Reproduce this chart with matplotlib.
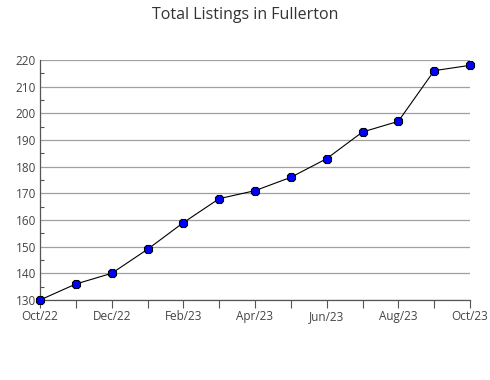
import matplotlib
matplotlib.use("Agg")
import matplotlib.pyplot as plt
from matplotlib.ticker import MultipleLocator

# data
months = ["Oct/22", "Nov/22", "Dec/22", "Jan/23", "Feb/23", "Mar/23", "Apr/23",
          "May/23", "Jun/23", "Jul/23", "Aug/23", "Sep/23", "Oct/23"]
listings = [130, 136, 140, 149, 159, 168, 171, 176, 183, 193, 197, 216, 218]

TEXT = "#444444"
GRID = "#a0a0a0"

plt.rcParams["font.family"] = ["Open Sans", "DejaVu Sans"]

fig = plt.figure(figsize=(4.9, 3.8), dpi=100)
ax = fig.add_axes([40 / 490, 80 / 380, 430 / 490, 240 / 380])

x = list(range(len(months)))
ax.plot(x, listings, color="black", lw=0.8, marker="8", markersize=7,
        markerfacecolor="#0000ff", markeredgecolor="black", markeredgewidth=0.8,
        zorder=3, clip_on=False)

ax.set_xlim(0, len(months) - 1)
ax.set_ylim(130, 220)
ax.yaxis.set_major_locator(MultipleLocator(10))
ax.yaxis.set_minor_locator(MultipleLocator(5))
ax.grid(axis="y", which="major", color=GRID, lw=0.9)
ax.set_axisbelow(True)

ax.set_xticks(x)
ax.set_xticklabels([m if i % 2 == 0 else "" for i, m in enumerate(months)])

for s in ["top", "right"]:
    ax.spines[s].set_visible(False)
for s in ["left", "bottom"]:
    ax.spines[s].set_color("#555555")
    ax.spines[s].set_linewidth(0.9)

ax.tick_params(axis="both", which="both", colors="#555555", labelcolor=TEXT,
               labelsize=8.5, width=0.8)
ax.tick_params(axis="x", length=6, pad=1)
ax.tick_params(axis="y", which="major", length=0, pad=3)
ax.tick_params(axis="y", which="minor", length=3, direction="in")

fig.text(0.5, 1 - 15 / 380, "Total Listings in Fullerton", ha="center",
         va="center", fontsize=11.5, color="#333333")

fig.savefig("out.png", dpi=100)
